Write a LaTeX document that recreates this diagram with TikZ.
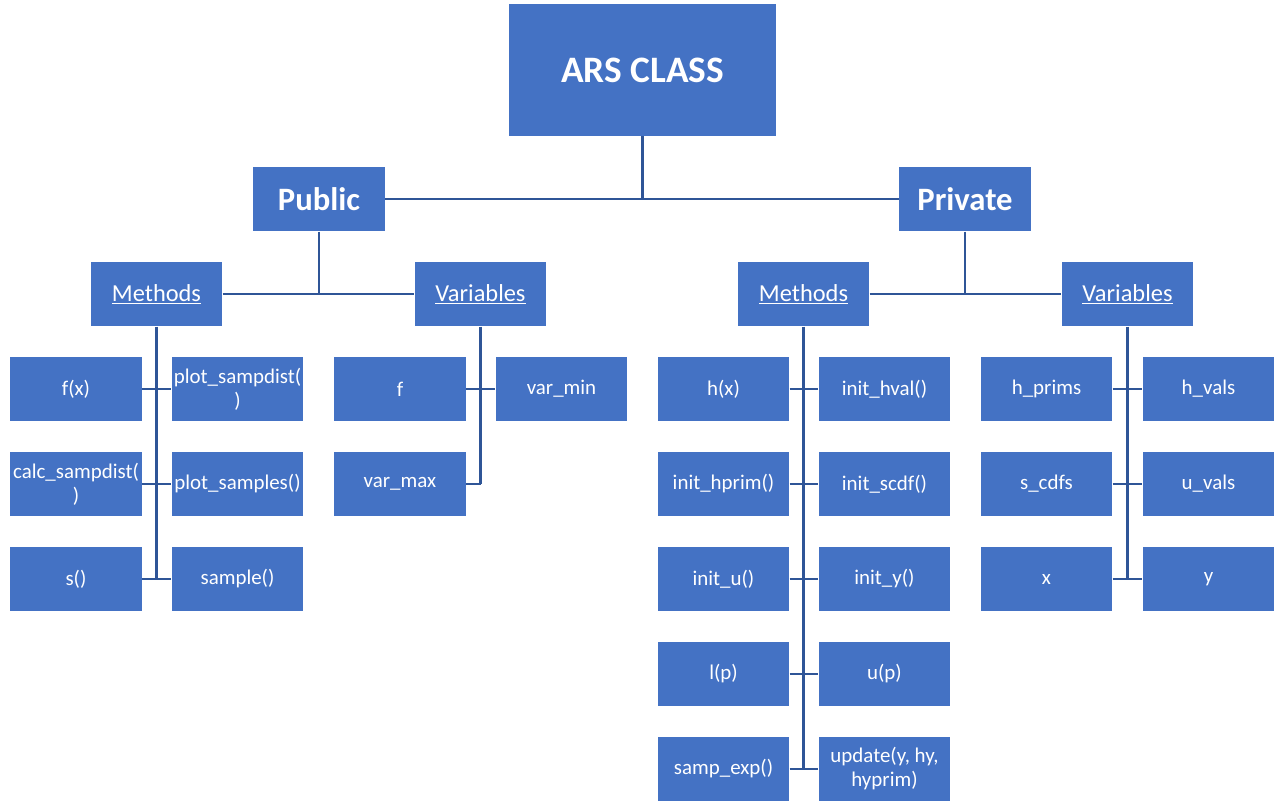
\documentclass[tikz,border=0pt]{standalone}
\usepackage{fontspec}
\setmainfont{Carlito}
\definecolor{boxblue}{RGB}{68,114,196}
\definecolor{linkblue}{RGB}{47,85,151}
\tikzset{every picture/.style={line width=0.75pt}}
\tikzset{
  leafbox/.style={fill=boxblue, text=white, minimum width=98.5pt, minimum height=48pt, inner sep=0.5pt, align=center, font=\fontsize{15.7}{18}\selectfont},
  headbox/.style={leafbox, font=\fontsize{18.3}{21}\selectfont},
  groupbox/.style={leafbox, font=\bfseries\fontsize{24.5}{28}\selectfont},
  classbox/.style={leafbox, minimum width=200pt, minimum height=99pt, font=\bfseries\fontsize{28}{32}\selectfont},
  link/.style={draw=linkblue, line width=1.6pt}
}

\begin{document}
\begin{tikzpicture}[x=0.75pt,y=0.75pt,yscale=-1,xscale=1]
\useasboundingbox (0,0) rectangle (1277,806);

%Top levels
\node [classbox] (ars) at (642.5,70) {ARS CLASS};
\node [groupbox] (pub) at (319,199) {Public};
\node [groupbox] (priv) at (965,199) {Private};
\node [headbox] (pubm) at (156.5,294) {\underline{Methods}};
\node [headbox] (pubv) at (480.5,294) {\underline{Variables}};
\node [headbox] (privm) at (803.5,294) {\underline{Methods}};
\node [headbox] (privv) at (1127.5,294) {\underline{Variables}};

%Public methods
\node [leafbox] (pml1) at (76,389) {f(x)};
\node [leafbox] (pmr1) at (237.5,389) {plot\_sampdist(\\)};
\node [leafbox] (pml2) at (76,484) {calc\_sampdist(\\)};
\node [leafbox] (pmr2) at (237.5,484) {plot\_samples()};
\node [leafbox] (pml3) at (76,579) {s()};
\node [leafbox] (pmr3) at (237.5,579) {sample()};

%Public variables
\node [leafbox] (pvl1) at (400,389) {f};
\node [leafbox] (pvr1) at (561.5,389) {var\_min};
\node [leafbox] (pvl2) at (400,484) {var\_max};

%Private methods
\node [leafbox] (qml1) at (723.5,389) {h(x)};
\node [leafbox] (qmr1) at (884.5,389) {init\_hval()};
\node [leafbox] (qml2) at (723.5,484) {init\_hprim()};
\node [leafbox] (qmr2) at (884.5,484) {init\_scdf()};
\node [leafbox] (qml3) at (723.5,579) {init\_u()};
\node [leafbox] (qmr3) at (884.5,579) {init\_y()};
\node [leafbox] (qml4) at (723.5,674) {l(p)};
\node [leafbox] (qmr4) at (884.5,674) {u(p)};
\node [leafbox] (qml5) at (723.5,769) {samp\_exp()};
\node [leafbox] (qmr5) at (884.5,769) {update(y, hy,\\hyprim)};

%Private variables
\node [leafbox] (qvl1) at (1046.5,389) {h\_prims};
\node [leafbox] (qvr1) at (1208.5,389) {h\_vals};
\node [leafbox] (qvl2) at (1046.5,484) {s\_cdfs};
\node [leafbox] (qvr2) at (1208.5,484) {u\_vals};
\node [leafbox] (qvl3) at (1046.5,579) {x};
\node [leafbox] (qvr3) at (1208.5,579) {y};

%Links between levels
\draw [link] (ars.south) -- (ars.south |- pub.east);
\draw [link] (pub.east) -- (priv.west);
\draw [link] (pub.south) -- (pub.south |- pubm.east);
\draw [link] (pubm.east) -- (pubv.west);
\draw [link] (priv.south) -- (priv.south |- privm.east);
\draw [link] (privm.east) -- (privv.west);

%Links to leaves
\draw [link] (pubm.south) -- (pubm.south |- pml3.east);
\draw [link] (pml1.east) -- (pmr1.west);
\draw [link] (pml2.east) -- (pmr2.west);
\draw [link] (pml3.east) -- (pmr3.west);

\draw [link] (pubv.south) -- (pubv.south |- pvl2.east);
\draw [link] (pvl1.east) -- (pvr1.west);
\draw [link] (pvl2.east) -- (pubv.south |- pvl2.east);

\draw [link] (privm.south) -- (privm.south |- qml5.east);
\draw [link] (qml1.east) -- (qmr1.west);
\draw [link] (qml2.east) -- (qmr2.west);
\draw [link] (qml3.east) -- (qmr3.west);
\draw [link] (qml4.east) -- (qmr4.west);
\draw [link] (qml5.east) -- (qmr5.west);

\draw [link] (privv.south) -- (privv.south |- qvl3.east);
\draw [link] (qvl1.east) -- (qvr1.west);
\draw [link] (qvl2.east) -- (qvr2.west);
\draw [link] (qvl3.east) -- (qvr3.west);
\end{tikzpicture}
\end{document}
